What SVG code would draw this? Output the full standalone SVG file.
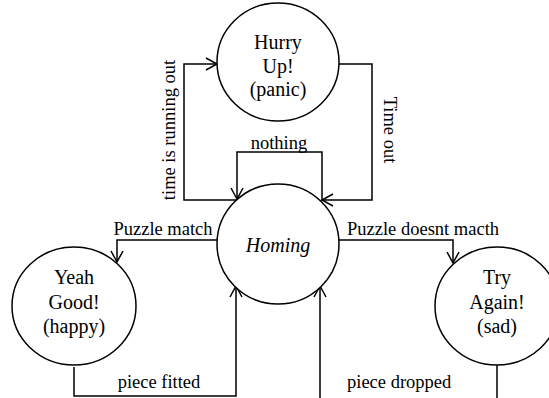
<svg xmlns="http://www.w3.org/2000/svg" width="549" height="398" viewBox="0 0 549 398">
<defs>
<marker id="arr" markerUnits="userSpaceOnUse" markerWidth="14" markerHeight="14" viewBox="0 0 14 14" refX="12" refY="7" orient="auto">
<path d="M1,1 L12,7 L1,13" fill="none" stroke="#000" stroke-width="1.5"/>
</marker>
</defs>
<style>
text{font-family:"Liberation Serif","Times New Roman",serif;font-size:18.5px;fill:#000}
.n{text-anchor:middle}
.t{text-anchor:middle;font-size:20px}
.s{fill:#fff;stroke:#000;stroke-width:1.5}
.c{fill:none;stroke:#000;stroke-width:1.5;marker-end:url(#arr)}
</style>
<rect width="549" height="398" fill="#fff"/>
<g id="connectors">
<path class="c" d="M237,200 H184 V64 H217"/>
<path class="c" d="M339,64 H372 V200 H322"/>
<path class="c" d="M322,201 V152 H237 V199"/>
<path class="c" d="M218,240 H117 V262"/>
<path class="c" d="M338,240 H453 V263"/>
<path class="c" d="M74,367 V396 H236 V286"/>
<path class="c" d="M497,365 V420 H320 V286"/>
<text class="n" transform="translate(175,130) rotate(-90)">time is running out</text>
<text class="n" transform="translate(384,130) rotate(90)">Time out</text>
<text class="n" x="279" y="149">nothing</text>
<text class="n" x="163" y="235">Puzzle match</text>
<text x="347" y="235">Puzzle doesnt macth</text>
<text class="n" x="159" y="388">piece fitted</text>
<text x="347" y="388">piece dropped</text>
</g>
<g id="hurry">
<ellipse class="s" cx="278" cy="62" rx="61" ry="59"/>
<text class="t" x="278" y="49">Hurry</text>
<text class="t" x="278" y="73">Up!</text>
<text class="t" x="278" y="96">(panic)</text>
</g>
<g id="homing">
<ellipse class="s" cx="278" cy="244" rx="61" ry="60"/>
<text class="t" x="278" y="252" font-style="italic">Homing</text>
</g>
<g id="yeah">
<ellipse class="s" cx="74" cy="306" rx="62" ry="59"/>
<text class="t" x="74" y="284">Yeah</text>
<text class="t" x="74" y="309">Good!</text>
<text class="t" x="74" y="333">(happy)</text>
</g>
<g id="try">
<ellipse class="s" cx="497" cy="306" rx="62" ry="59"/>
<text class="t" x="497" y="284">Try</text>
<text class="t" x="497" y="309">Again!</text>
<text class="t" x="497" y="333">(sad)</text>
</g>
</svg>
